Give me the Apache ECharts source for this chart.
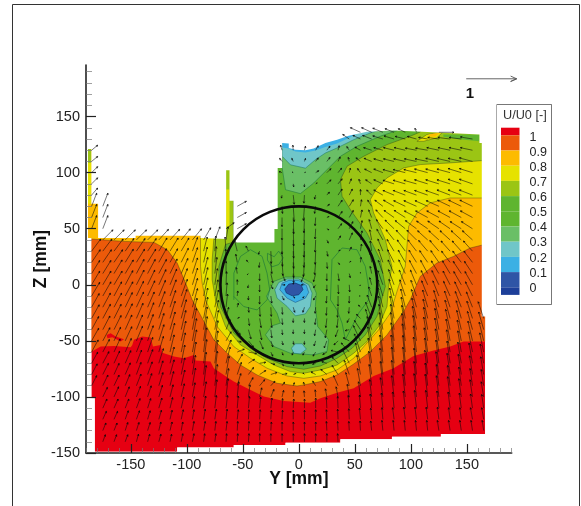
<!DOCTYPE html>
<html><head><meta charset="utf-8">
<style>html,body{margin:0;padding:0;background:#fff}#c{width:581px;height:506px}</style>
<script src="https://cdn.jsdelivr.net/npm/echarts@6/dist/echarts.min.js"></script>
</head><body><div id="c"></div>
<script>
// ---- axes ----
const majorTicks = [-150,-100,-50,0,50,100,150];
const xMinorTicks = [-190,-180,-170,-160,-140,-130,-120,-110,-90,-80,-70,-60,-40,-30,-20,-10,10,20,30,40,60,70,80,90,110,120,130,140,160,170,180,190];
const yMinorTicks = [-140,-130,-120,-110,-90,-80,-70,-60,-40,-30,-20,-10,10,20,30,40,60,70,80,90,110,120,130,140,160,170,180,190];
// ---- legend ----
const legendTitle = 'U/U0 [-]';
const legendLabels = ['1','0.9','0.8','0.7','0.6','0.5','0.4','0.3','0.2','0.1','0'];
const legendColors = ['#E60012','#EC5A0A','#FDBB00','#E6E200','#9BC514','#5FB52F','#5FB52F','#6ABF66','#70C6C8','#3BB0E4','#2F55A6','#1D3F99'];
// ---- measured domain outline (Y, Z in mm) ----
const domainOutline = [[-188.2,121.2],[-185.2,121.2],[-185.2,72.3],[-179.2,72.3],[-179.2,41.7],[-145.7,41.7],[-145.7,43.8],[-87.8,43.8],[-87.8,41.7],[-64.9,40.8],[-64.9,102.1],[-61.9,102.1],[-61.9,75],[-58.4,75],[-58.4,37.8],[-21.8,37.8],[-21.8,49.7],[-18.9,49.7],[-18.9,104.2],[-14.9,104.2],[-14.9,126.5],[-9,126],[-9,122],[-3,120.5],[5.9,120],[13.3,121.5],[23.7,126.5],[34.1,129.4],[44.5,133],[60.8,136.5],[84.6,137.5],[105.4,136.6],[161.2,134],[161.2,126.5],[163.3,126.5],[163.3,-28.3],[166.3,-28.3],[166.3,-133],[126.8,-133],[126.8,-135.4],[83.1,-135.4],[83.1,-137.8],[37.1,-137.8],[37.1,-140.8],[-11.9,-140.8],[-11.9,-142.9],[-58.1,-142.9],[-58.1,-145],[-108.6,-145],[-108.6,-148.8],[-182.2,-148.8],[-182.2,-101.2],[-185.2,-101.2],[-185.2,41.7],[-188.2,41.7]];
// ---- contour band regions (Y, Z in mm) ----
const below100 = [[-190,-59.6],[-185.2,-59.6],[-176.9,-55.1],[-165,-54.5],[-150.1,-55.7],[-148.7,-53.6],[-147.2,-49.1],[-139.8,-46.2],[-132.3,-47],[-130.2,-55.1],[-123.4,-53.6],[-121.9,-60.5],[-111.5,-64],[-102.6,-65.5],[-93.7,-62.5],[-92.2,-67.6],[-78.9,-68.5],[-75.9,-74.4],[-64,-82.5],[-58.1,-86.3],[-46.2,-92.3],[-31.3,-99.7],[-13.5,-103.6],[10.2,-105.1],[19.3,-101.2],[34.1,-96.2],[49,-92.3],[66.8,-81.3],[84.6,-74.4],[102.4,-63.4],[120.2,-58.7],[135.1,-55.1],[147,-50.6],[166.3,-50.6],[175,-50.6],[175,145],[-190,145]];
const redIsland = [[-171.5,-44.7],[-168,-43.2],[-163.5,-46.2],[-156.1,-48.5],[-159,-50.6],[-166.5,-46.8],[-170.9,-47.7]];
const below90 = [[-190,41],[-185.2,40.8],[-156.1,38.7],[-129.3,37.8],[-117.5,31.3],[-108.6,19.4],[-101.1,1.5],[-95.2,-13.4],[-86.3,-29.8],[-75.9,-49.1],[-64,-61],[-52.1,-71.5],[-37.3,-80.4],[-19.5,-87.8],[-1.6,-90.2],[4.4,-89.3],[19.3,-86.3],[34.1,-80.4],[49,-70.6],[63.8,-59.6],[78.7,-44.7],[93.5,-23.8],[99.4,-13.4],[108.4,7.5],[123.2,19.4],[138,25.3],[152.9,32.8],[164.8,35.7],[175,35.7],[175,145],[-190,145]];
const below80 = [[-87.8,145],[-87.8,16.4],[-86.3,1.5],[-83.3,-13.4],[-72.9,-37.2],[-58.1,-55.1],[-43.2,-65.5],[-28.4,-74.4],[-10.5,-81.3],[4.4,-83.4],[19.3,-81.3],[34.1,-75.9],[49,-65.5],[59.3,-53.6],[71.2,-40.2],[81.6,-25.3],[89,-1.5],[95,16.4],[98,52.1],[105.4,64],[117.3,73],[135,77.4],[163.3,77.4],[175,77.4],[175,145]];
const below70 = [[-75.9,145],[-75.9,40.8],[-77.4,22.4],[-77.4,4.5],[-74.4,-13.4],[-65.5,-37.2],[-52.1,-53.6],[-37.3,-62.5],[-22.4,-71.5],[-7.6,-77.4],[4.4,-78.9],[19.3,-75.9],[34.1,-71.5],[49,-61],[60.8,-50.6],[71.2,-37.2],[78.7,-19.4],[80.1,-1.5],[83.1,16.4],[77.2,40.2],[66.8,64],[63.8,75.9],[69.7,86.3],[78.7,95.3],[93.5,104.2],[108.4,107.2],[135.1,108.7],[163.3,110.7],[175,110.7],[175,145]];
const below60 = [[-58.4,145],[-58.4,38],[-65.5,36],[-71.4,16.4],[-71.4,-1.5],[-70,-19.4],[-58,-43.2],[-43.2,-56.6],[-28.4,-65.5],[-10.5,-73],[4.4,-75.3],[19.3,-72.4],[34.1,-65.5],[47.5,-56.6],[59.3,-44.7],[69.7,-28.3],[77.2,-1.5],[72.7,22.4],[60.8,46.2],[46,67],[38.6,78.9],[37.1,93.8],[43,105.7],[57.9,114.6],[78.7,125],[99.4,132.5],[108.4,136.3],[108.4,145]];
const topRightGreen = [[129,134],[161.2,134],[161.2,128],[141,130],[129,132]];
const lensYellow = [[105.4,128],[114.3,134],[129,136.6],[123,131],[111.4,128]];
const lensAmber = [[115.8,134],[126,135.5],[121.7,132],[116.7,132]];
const stripYellow = [[-190,72.3],[-179.2,72.3],[-185.2,72.3],[-185.2,108.7],[-190,108.7]];
const stripGreen = [[-190,108.7],[-185.2,108.7],[-185.2,125],[-190,125]];
const spikeYellow = [[-64.9,52],[-61.9,52],[-61.9,85],[-64.9,85]];
const below40Lower = [[-29.8,-44.6],[-23.9,-36.6],[-16.5,-34.2],[-19.4,-25.3],[-28.9,-10.4],[-22.4,3],[-12,6.9],[1.4,6.9],[11.8,1.5],[15.6,-7.4],[14.7,-19.3],[16.8,-37.2],[26.6,-49.1],[25.1,-59.5],[13.3,-62.5],[-7.5,-61],[-22.4,-55]];
const below40Upper = [[-14.9,145],[-14.9,104.2],[-11.9,84.8],[1.4,81.3],[13.3,90.8],[25.2,102.7],[37.1,114.6],[51.9,123.5],[72.7,132.5],[87.6,137.5],[87.6,145]];
const below30Lower = [[-21.5,-4.4],[-17.9,2.1],[-10.5,5.1],[-0.1,5.1],[8.8,0],[11.8,-7.4],[10.3,-19.3],[5.8,-25.9],[-3.1,-27.7],[-10.5,-19.3],[-19.4,-11.9]];
const below30Spot = [[-6.6,-56.5],[-3.1,-52.6],[2.9,-52.6],[6.7,-57.4],[1.4,-61.6],[-4.6,-61]];
const below30Upper = [[-14.9,145],[-14.9,114.6],[-7.5,107],[5.9,104],[14.8,111.6],[23.7,117.5],[34.1,122],[49,129.4],[63.8,135.4],[72.7,138],[72.7,145]];
const below20Lower = [[-17,-4.4],[-15,1.5],[-9,3.9],[-0.1,3.9],[6.7,-0.6],[8.8,-6.8],[5.8,-11.9],[-3.1,-15.7],[-10.5,-11.9]];
const below20Upper = [[-14.9,145],[-14.9,122.5],[-9,121.5],[-3,118.8],[5.9,118],[14.8,119.8],[23.7,122.9],[34.1,125.9],[44.5,130.9],[50.4,133.9],[50.4,145]];
const below10 = [[-12.6,-3.8],[-9,0.6],[-3.1,1.5],[2.3,-0.6],[3.7,-4.4],[-0.1,-8.9],[-6,-9.8],[-11.1,-7.4]];
// ---- thin contour lines inside the wake (Y, Z in mm) ----
const wakeLineRight = [[28.2,-13.4],[29.6,22.4],[38.6,32.8],[51.9,31.3],[59.3,16.4],[62.3,-1.5],[62.3,-13.4],[53.4,-25.3],[41.5,-49.1],[38.6,-34.3],[34.1,-22.4],[28.2,-13.4]];
const wakeLineLeft = [[-58,-13.4],[-58,10.4],[-52.1,25.3],[-43.2,31.3],[-32.8,25.3],[-28.4,10.4],[-26,-4.4],[-28.4,-13.4],[-37.3,-22.4],[-49.2,-19.4],[-58,-10.4]];
const wakeLineWiggle = [[-28,28],[-22,25],[-18,30],[-14,24],[-18,18],[-24,16],[-28,22],[-28,28]];
// ---- circle ----
const circleCenter = [0,0];
const circleRadius = 70;
// ---- velocity vectors: rows at constant Z, columns 10 mm apart from Y=-185 ----
const arrowFirstY = -185, arrowStepY = 10;
const arrowRowZ = [-140,-130,-120,-110,-100,-90,-80,-70,-60,-50,-40,-30,-20,-10,0,10,20,30,40,50,60,70,80,90,100,110,120,130,136];
const arrowRowStart = [1,1,1,1,1,0,0,0,0,0,0,0,0,0,0,0,0,0,1,17,17,17,17,17,17,17,17,23,24];
const arrowRowU = [
[5,5,5,4,4,4,3,3,3,2,2,1,1,1,0,0,0,0,0,0,0,-1],
[6,6,5,5,5,4,4,3,3,3,2,2,1,1,1,1,0,0,0,0,-1,-1,-1,-1,-2,-2,-2,-2,-2,-2,-3,-3,-3,-3,-3],
[7,7,6,6,5,5,4,4,3,3,3,2,2,1,1,1,1,0,0,0,-1,-1,-1,-2,-2,-2,-3,-3,-3,-3,-3,-3,-3,-4,-4],
[8,8,7,7,6,6,5,5,4,4,3,3,2,2,2,2,1,1,0,0,-1,-1,-2,-2,-3,-3,-3,-4,-4,-4,-4,-4,-4,-4,-4],
[9,9,8,8,7,7,6,6,5,5,4,4,3,3,4,6,3,1,-1,-1,-3,-4,-4,-4,-4,-5,-5,-5,-5,-5,-5,-5,-5,-5,-5],
[10,10,10,9,9,8,8,7,7,6,5,5,5,7,9,10,8,5,2,-2,-6,-9,-9,-7,-6,-5,-5,-5,-5,-5,-5,-5,-5,-5,-5,-5],
[11,11,10,10,9,9,8,8,7,6,5,5,6,8,10,12,12,10,5,-3,-9,-12,-12,-10,-7,-6,-6,-5,-5,-5,-6,-6,-6,-6,-6,-6],
[12,12,11,11,10,10,9,8,7,7,6,6,8,10,12,12,8,3,1,-2,-6,-10,-12,-13,-10,-7,-6,-6,-5,-6,-6,-6,-6,-7,-7,-7],
[13,13,12,12,11,10,9,8,8,8,6,6,10,14,16,10,4,2,-2,-3,-5,-8,-14,-16,-12,-8,-7,-6,-6,-6,-7,-7,-7,-7,-8,-8],
[14,14,13,13,12,11,10,9,9,8,7,6,10,8,10,7,4,2,1,0,-3,-5,-8,-12,-14,-9,-7,-7,-7,-7,-8,-8,-8,-8,-9,-9],
[14,14,14,13,12,11,10,10,9,8,7,7,8,6,5,4,2,1,0,0,-2,-3,-5,-8,-12,-12,-8,-7,-7,-8,-8,-8,-9,-9,-10,-10],
[15,15,14,14,13,12,11,10,10,9,8,7,5,4,2,3,2,1,0,0,-1,-2,-2,-4,-8,-12,-9,-8,-8,-9,-9,-9,-10,-10,-11,-11],
[15,15,15,14,14,13,12,11,11,10,8,7,3,2,1,1,1,1,3,-3,-1,-1,-1,-1,-4,-9,-10,-9,-9,-10,-10,-10,-11,-12,-12],
[16,16,15,15,14,14,13,12,12,10,8,6,2,1,0,0,2,4,3,-3,-4,-1,0,0,-2,-6,-10,-10,-11,-11,-12,-12,-13,-13,-14],
[16,16,16,15,15,14,14,13,12,10,8,5,1,0,-1,0,4,6,0,-6,-4,0,1,1,-1,-4,-10,-11,-12,-12,-13,-14,-14,-15,-15],
[16,16,16,16,15,15,15,14,13,10,8,4,0,-2,-2,0,4,6,1,-6,-4,0,2,2,0,-3,-9,-12,-13,-14,-14,-15,-15,-16,-16],
[17,17,17,16,16,16,15,15,14,10,7,3,-1,-3,-4,-1,2,2,1,-2,-2,1,3,3,1,-3,-9,-13,-14,-15,-16,-16,-17,-17,-17],
[18,18,18,17,17,17,16,16,15,10,7,2,-2,-5,-5,-2,1,1,1,-1,-1,2,4,4,2,-3,-10,-14,-16,-17,-18,-18,-18,-18,-18],
[20,20,20,20,20,19,19,18,18,14,10,4,null,null,null,null,0,1,-1,-1,3,5,6,3,-4,-12,-16,-18,-19,-20,-20,-20,-20,-20],
[0,1,-1,-1,4,7,7,3,-5,-13,-18,-20,-22,-22,-22,-22,-22,-22],
[0,1,-1,-1,4,8,8,3,-6,-14,-20,-22,-24,-24,-24,-24,-24,-24],
[1,2,-2,-2,5,8,8,2,-8,-16,-21,-23,-25,-25,-25,-25,-25,-25],
[-1,2,-1,-2,5,8,6,0,-10,-18,-22,-24,-25,-26,-26,-26,-26,-26],
[-3,1,0,3,8,8,4,-3,-12,-18,-22,-24,-25,-26,-26,-26,-26,-26],
[-6,-2,2,6,8,7,2,-6,-14,-18,-22,-24,-25,-26,-26,-26,-26,-26],
[-5,-3,2,5,6,4,-2,-9,-15,-18,-21,-23,-24,-25,-26,-26,-26,-26],
[-3,-1,2,5,6,2,-5,-11,-16,-18,-21,-22,-22,-24,-24,-24,-24,-24],
[-13,-15,-18,-20,-20,-20,-18,-18,-22,-24,-24,-24],
[-20,-20,-20,-18,-14,-3,null,30]
];
const arrowRowW = [
[14,14,14,15,15,15,15,16,16,16,16,16,16,16,16,16,16,16,16,16,16,16],
[15,15,16,16,16,17,17,17,18,18,18,18,18,18,17,17,17,17,17,17,18,18,18,19,19,20,20,20,20,20,20,20,20,20,20],
[16,16,17,17,17,18,18,19,19,20,20,20,19,19,19,18,18,18,18,19,19,20,21,22,22,23,23,24,24,24,24,23,23,23,23],
[18,18,18,19,19,20,21,22,23,24,25,25,24,23,22,20,19,18,18,20,21,23,25,26,28,30,32,34,35,35,34,32,30,28,27],
[19,20,20,21,22,23,24,26,28,30,34,36,30,24,18,15,13,12,12,14,16,20,25,30,34,38,42,45,46,45,42,40,36,34,30],
[20,21,21,22,23,24,26,28,31,35,40,42,34,24,16,12,9,7,6,7,9,14,20,26,34,42,48,50,50,48,45,42,40,37,34,32],
[21,22,22,23,24,25,27,29,33,38,44,46,36,24,14,8,4,2,2,3,5,10,18,28,38,46,52,54,54,52,48,45,42,40,37,35],
[22,23,24,25,26,27,29,32,36,42,47,46,32,18,8,2,-2,-5,-5,-4,-2,3,12,26,40,50,56,56,55,52,50,46,44,42,40,38],
[24,25,26,27,28,29,31,34,38,44,48,42,24,6,-3,-6,-8,-6,-6,-6,-8,-5,3,18,36,50,58,58,56,52,48,46,44,42,40,38],
[25,26,27,28,29,30,32,35,39,44,48,40,18,-2,-12,-16,-12,-8,-7,-7,-10,-14,-8,6,30,48,56,56,54,50,47,45,43,41,39,37],
[26,27,28,29,29,30,32,35,38,42,45,38,20,-10,-18,-20,-16,-10,-8,-8,-12,-16,-14,-2,18,40,50,50,48,46,44,42,40,38,36,35],
[27,28,28,29,30,31,32,34,37,40,42,36,22,2,-14,-18,-18,-12,-8,-8,-12,-18,-18,-8,8,32,44,44,42,40,38,37,36,35,34,33],
[27,28,28,29,30,30,31,33,35,37,38,34,26,8,-10,-18,-18,-14,-10,-10,-12,-16,-20,-12,4,24,38,38,36,35,34,33,32,31,30],
[27,28,28,28,29,30,31,32,33,35,36,32,26,10,-8,-16,-14,-8,-4,-4,-8,-14,-20,-14,0,18,32,33,32,31,30,30,29,28,28],
[27,27,27,28,29,29,30,31,32,33,34,32,26,10,-6,-14,-8,0,3,0,-6,-12,-18,-14,-2,14,28,30,29,29,28,28,27,26,26],
[26,26,27,27,28,28,28,29,30,31,32,32,24,12,-2,-14,-18,-14,-18,-16,-16,-14,-14,-8,2,14,26,27,27,26,26,25,25,24,24],
[25,25,25,26,26,26,27,27,28,29,30,31,26,16,4,-10,-22,-26,-30,-28,-24,-12,-4,2,10,18,26,25,24,24,23,23,22,22,22],
[24,24,24,25,25,25,26,26,26,27,28,30,28,20,10,-6,-24,-30,-34,-32,-26,-10,2,8,14,20,24,23,22,22,21,21,20,20,20],
[20,20,20,20,20,21,21,22,22,24,26,26,null,null,null,null,-28,-36,-34,-24,-6,8,14,18,20,21,20,19,19,18,18,18,18,18],
[-22,-34,-32,-20,-2,10,14,16,18,18,17,16,16,15,15,15,14,14],
[-18,-32,-30,-16,2,12,14,15,15,15,14,14,13,13,13,13,13,13],
[-14,-30,-28,-14,4,12,13,13,12,12,12,11,11,11,11,12,12,12],
[-6,-18,-16,-8,6,12,12,11,10,10,9,9,9,9,9,10,10,10],
[0,-6,-6,2,8,10,10,9,8,8,7,7,7,8,8,8,9,9],
[2,1,1,4,8,9,9,8,7,7,6,6,6,7,7,7,8,8],
[6,6,6,7,8,9,8,7,6,5,5,5,5,5,6,6,6,7],
[10,10,8,9,8,9,7,6,5,5,5,5,4,4,5,5,5,5],
[9,7,7,6,6,5,5,3,3,3,3,4],
[9,9,8,7,7,8,null,0]
];
// extra vectors on the left strip and on the spike (Y, Z, U, W)
const extraY = [-185,-185,-185,-185,-185,-185,-175,-185,-175,-185,-175,-55,-55,-55,-65];
const extraZ = [120,110,100,90,80,70,70,60,60,50,50,50,60,70,50];
const extraU = [12,12,12,12,12,10,10,10,10,10,10,18,18,18,16];
const extraW = [10,10,12,12,14,26,26,26,26,26,26,10,10,10,12];
// ---- reference vector ----
const refVector = {y:149.4, z:183.7, u:100, w:0};
const mmPerUnit = 45; // vector length in mm for U/U0 = 1

const c = {
  red:legendColors[0],orange:legendColors[1],amber:legendColors[2],yellow:legendColors[3],yg:legendColors[4],
  green:legendColors[5],muted:legendColors[7],teal:legendColors[8],lblue:legendColors[9],blue:legendColors[10]
};
const line = 'rgba(20,30,20,0.55)';
const bands = [
 {p:domainOutline,f:c.red},
 {p:below100,f:c.orange},
 {p:redIsland,f:c.red},
 {p:below90,f:c.amber,s:line},
 {p:below80,f:c.yellow,s:line},
 {p:below70,f:c.yg,s:line},
 {p:stripYellow,f:c.yellow},
 {p:stripGreen,f:c.yg},
 {p:spikeYellow,f:c.yellow},
 {p:below60,f:c.green,s:line},
 {p:topRightGreen,f:c.green},
 {p:lensYellow,f:c.yellow,s:line},
 {p:lensAmber,f:c.amber},
 {p:below40Lower,f:c.muted,s:'rgba(20,110,60,0.8)'},
 {p:below40Upper,f:c.muted,s:'rgba(20,110,60,0.8)'},
 {p:below30Lower,f:c.teal,s:'rgba(20,110,90,0.8)'},
 {p:below30Spot,f:c.teal,s:'rgba(20,110,90,0.8)'},
 {p:below30Upper,f:c.teal,s:'rgba(20,110,90,0.8)'},
 {p:below20Lower,f:c.lblue,s:'rgba(20,70,120,0.8)'},
 {p:below20Upper,f:c.lblue},
 {p:below10,f:c.blue,s:'rgba(10,30,90,0.9)'}
];
const wakeLines = [wakeLineRight,wakeLineLeft,wakeLineWiggle];

// white mask: the plot area with the measured domain cut out (opposite windings)
const X0=-190,X1=190,Y0=-150,Y1=196;
const maskRing = [[X0,Y1]].concat(domainOutline,[domainOutline[0]],[[X0,Y1],[X0,Y0],[X1,Y0],[X1,Y1]]);

// flatten vectors
const vectors = [];
arrowRowZ.forEach((z,r)=>{
  const U=arrowRowU[r],W=arrowRowW[r];
  for(let i=0;i<U.length&&i<W.length;i++){
    if(U[i]===null||W[i]===null) continue;
    vectors.push([arrowFirstY+arrowStepY*(arrowRowStart[r]+i),z,U[i],W[i]]);
  }
});
extraY.forEach((y,i)=>vectors.push([y,extraZ[i],extraU[i],extraW[i]]));

function poly(api,pts,fill,stroke,lw){
  return {type:'polygon',shape:{points:pts.map(p=>api.coord(p))},
    style:{fill:fill,stroke:stroke||null,lineWidth:lw||0.6}};
}
function arrowShape(api,y,z,u,w,color,lw,hs){
  const a=api.coord([y,z]),b=api.coord([y+u/100*mmPerUnit,z+w/100*mmPerUnit]);
  const dx=b[0]-a[0],dy=b[1]-a[1],len=Math.hypot(dx,dy)||1;
  const h=Math.min(hs,len*0.45),ux=dx/len,uy=dy/len;
  const l=[b[0]-ux*h-uy*h*0.45,b[1]-uy*h+ux*h*0.45],r=[b[0]-ux*h+uy*h*0.45,b[1]-uy*h-ux*h*0.45];
  return {type:'polyline',shape:{points:[a,b,l,b,r]},style:{stroke:color,lineWidth:lw,fill:null}};
}
const font='"Liberation Sans",Arial,sans-serif';

const option={
  animation:false,
  backgroundColor:'#fff',
  grid:{left:86,right:69.3,top:65,bottom:53,containLabel:false},
  xAxis:[
   {type:'value',min:X0,max:X1,z:10,position:'bottom',
    name:'Y [mm]',nameLocation:'middle',nameGap:17,nameMoveOverlap:false,
    nameTextStyle:{fontFamily:font,fontSize:17.5,fontWeight:'bold',color:'#111'},
    axisLine:{onZero:false,lineStyle:{color:'#222',width:1.6}},
    axisTick:{inside:true,length:9,lineStyle:{color:'#222',width:1.2},customValues:majorTicks},
    axisLabel:{customValues:majorTicks,margin:4,fontFamily:font,fontSize:14.5,color:'#222'},
    splitLine:{show:false}},
   {type:'value',min:X0,max:X1,z:10,position:'bottom',
    axisLine:{show:false,onZero:false},axisLabel:{show:false},
    axisTick:{inside:true,length:5,lineStyle:{color:'#777',width:0.7},customValues:xMinorTicks},
    splitLine:{show:false}}
  ],
  yAxis:[
   {type:'value',min:Y0,max:Y1,z:10,position:'left',
    name:'Z [mm]',nameLocation:'middle',nameGap:36,nameMoveOverlap:false,
    nameTextStyle:{fontFamily:font,fontSize:17.5,fontWeight:'bold',color:'#111'},
    axisLine:{onZero:false,lineStyle:{color:'#222',width:1.6}},
    axisTick:{inside:true,length:10,lineStyle:{color:'#222',width:1.2},customValues:majorTicks},
    axisLabel:{customValues:majorTicks,margin:6,fontFamily:font,fontSize:14.5,color:'#222'},
    splitLine:{show:false}},
   {type:'value',min:Y0,max:Y1,z:10,position:'left',
    axisLine:{show:false,onZero:false},axisLabel:{show:false},
    axisTick:{inside:true,length:6,lineStyle:{color:'#777',width:0.7},customValues:yMinorTicks},
    splitLine:{show:false}}
  ],
  series:[
   {type:'custom',name:'bands',coordinateSystem:'cartesian2d',clip:true,silent:true,z:2,
    data:bands.map((b,i)=>[i]),
    encode:{x:[],y:[]},
    renderItem:(p,api)=>{const b=bands[p.dataIndex];return poly(api,b.p,b.f,b.s,0.6);}},
   {type:'custom',name:'wake lines',coordinateSystem:'cartesian2d',clip:true,silent:true,z:3,
    data:wakeLines.map((b,i)=>[i]),encode:{x:[],y:[]},
    renderItem:(p,api)=>({type:'polyline',shape:{points:wakeLines[p.dataIndex].map(q=>api.coord(q))},
      style:{stroke:'rgba(20,110,60,0.8)',lineWidth:0.7,fill:null}})},
   {type:'custom',name:'mask',coordinateSystem:'cartesian2d',clip:true,silent:true,z:4,
    data:[[0]],encode:{x:[],y:[]},
    renderItem:(p,api)=>poly(api,maskRing,'#fff')},
   {type:'custom',name:'circle',coordinateSystem:'cartesian2d',clip:true,silent:true,z:6,
    data:[circleCenter],encode:{x:0,y:1},
    renderItem:(p,api)=>{const o=api.coord(circleCenter),r=api.size([circleRadius,0])[0];
      return {type:'circle',shape:{cx:o[0],cy:o[1],r:r},style:{fill:null,stroke:'#0a0a0a',lineWidth:2.6}};}},
   {type:'custom',name:'vectors',coordinateSystem:'cartesian2d',clip:true,silent:true,z:5,
    data:vectors,encode:{x:0,y:1},
    renderItem:(p,api)=>{const v=vectors[p.dataIndex];return arrowShape(api,v[0],v[1],v[2],v[3],'rgba(10,10,10,0.85)',0.65,1.7);}},
   {type:'custom',name:'reference vector',coordinateSystem:'cartesian2d',clip:false,silent:true,z:6,
    data:[[refVector.y,refVector.z]],encode:{x:0,y:1},
    renderItem:(p,api)=>{const s=arrowShape(api,refVector.y,refVector.z,refVector.u,refVector.w,'#555',0.9,6);return s;}}
  ],
  graphic:{elements:[]}
};
// frame, open at the bottom
option.graphic.elements.push({type:'polyline',silent:true,z:0,shape:{points:[[12.5,506],[12.5,4.5],[579.5,4.5],[579.5,506]]},style:{stroke:'#333',lineWidth:1,fill:null}});
option.graphic.elements.push({type:'text',silent:true,z:20,style:{x:470,y:94,text:'1',font:'bold 15px '+font,fill:'#111',textAlign:'center',textVerticalAlign:'middle'}});
// legend
option.graphic.elements.push({type:'rect',silent:true,z:20,shape:{x:496.5,y:104.5,width:55,height:200},style:{fill:'#fff',stroke:'#aaa',lineWidth:1}});
option.graphic.elements.push({type:'polyline',silent:true,z:21,shape:{points:[[497,304.5],[551.5,304.5],[551.5,104.5],[497,104.5]]},style:{stroke:'#777',lineWidth:1,fill:null}});
option.graphic.elements.push({type:'text',silent:true,z:21,style:{x:503,y:115,text:legendTitle,font:'12.7px '+font,fill:'#333',textVerticalAlign:'middle'}});
let ly=127.7;
legendColors.forEach((col,i)=>{
  const h=(i===0||i===legendColors.length-1)?7.6:15.2;
  option.graphic.elements.push({type:'rect',silent:true,z:21,shape:{x:501,y:ly,width:18.5,height:h},style:{fill:col}});
  ly+=h;
});
legendLabels.forEach((t,i)=>{
  option.graphic.elements.push({type:'text',silent:true,z:21,style:{x:529.5,y:137.3+15.1*i,text:t,font:'12.5px '+font,fill:'#222',textVerticalAlign:'middle'}});
});
const chart=echarts.init(document.getElementById('c'),null,{renderer:'canvas'});
chart.setOption(option);
</script></body></html>
